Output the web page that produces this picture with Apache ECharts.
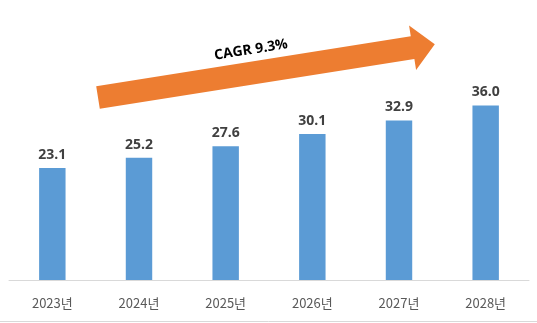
<!DOCTYPE html>
<html>
<head>
<meta charset="utf-8">
<script src="https://cdn.jsdelivr.net/npm/echarts@6/dist/echarts.min.js"></script>
<style>
html,body{margin:0;padding:0;background:#fff;}
#chart{width:537px;height:323px;}
</style>
</head>
<body>
<div id="chart"></div>
<script>
var categories = ['2023년', '2024년', '2025년', '2026년', '2027년', '2028년'];
var values = [23.1, 25.2, 27.6, 30.1, 32.9, 36.0];
var cagrLabel = 'CAGR 9.3%';

// arrow geometry (decoration)
function arrowPoints() {
  var ang = 9 * Math.PI / 180;
  var ux = Math.cos(ang), uy = -Math.sin(ang);
  var nx = Math.sin(ang), ny = Math.cos(ang);
  var cx = 98, cy = 97.5, w = 11.5, H = 22.5, L1 = 318.5, L = 341;
  function p(a, b) { return [cx + a * ux + b * nx, cy + a * uy + b * ny]; }
  return [p(0, -w), p(L1, -w), p(L1, -H), p(L, 0), p(L1, H), p(L1, w), p(0, w)];
}

var chart = echarts.init(document.getElementById('chart'));
chart.setOption({
  animation: false,
  backgroundColor: '#ffffff',
  grid: { left: 9, right: 8, top: 86, bottom: 43, containLabel: false },
  xAxis: {
    type: 'category',
    data: categories,
    axisLine: { show: true, lineStyle: { color: '#d9d9d9', width: 1 } },
    axisTick: { show: false },
    axisLabel: {
      color: '#595959', fontSize: 13, margin: 17,
      fontFamily: '"Noto Sans CJK KR", "Noto Sans", sans-serif'
    }
  },
  yAxis: {
    type: 'value', min: 0, max: 40, show: false,
    splitLine: { show: false }
  },
  series: [{
    type: 'bar',
    data: values,
    barWidth: '30.5%',
    itemStyle: { color: '#5B9BD5' },
    label: {
      show: true, position: 'top', distance: 6,
      color: '#404040', fontSize: 14, fontWeight: 'bold',
      fontFamily: '"Open Sans", "Liberation Sans", sans-serif',
      formatter: function (p) { return p.value.toFixed(1); }
    }
  }],
  graphic: [
    {
      type: 'polygon',
      shape: { points: arrowPoints() },
      style: { fill: '#ED7D31' },
      silent: true
    },
    {
      type: 'text',
      x: 251, y: 50,
      rotation: 9 * Math.PI / 180,
      style: {
        text: cagrLabel, fill: '#000000',
        font: 'bold 14px "Open Sans", "Liberation Sans", sans-serif',
        align: 'center', verticalAlign: 'middle'
      },
      silent: true
    },
    {
      type: 'line',
      shape: { x1: 0, y1: 321.5, x2: 537, y2: 321.5 },
      style: { stroke: '#d9d9d9', lineWidth: 1 },
      silent: true
    }
  ]
});
</script>
</body>
</html>
